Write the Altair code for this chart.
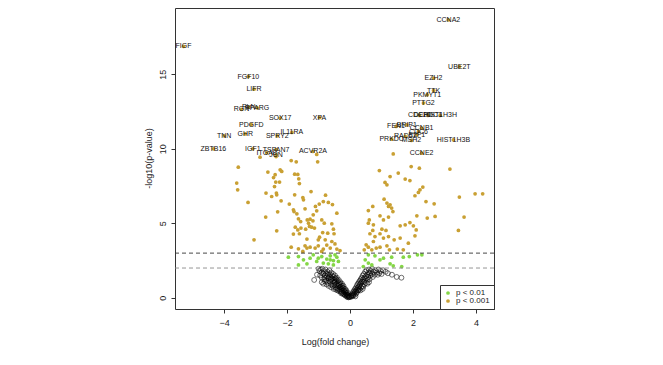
import altair as alt
import pandas as pd

# ---- data ----
gold_x = [-2.86, -2.35, -1.87, -1.71, -1.06, -1.03, -3.55, -3.60, -3.57, -3.24, -3.05, -2.68, -2.61, -2.67,
          -2.49, -2.43, -2.38, -2.36, -2.24, -2.22, -2.17, -2.40, -2.34, -2.33, -2.19, -2.30, -2.33, -1.76,
          -1.66, -1.63, -1.61, -1.76, -1.93, -1.80, -1.78, -1.50, -1.48, -1.43, -1.24, -1.10, -1.06, -0.98,
          -0.85, -0.78, -0.69, -0.56, -0.42, -1.69, -1.64, -1.57, -1.74, -1.66, -1.61, -1.80, -1.36, -1.27,
          -1.18, -1.32, -1.29, -1.22, -1.13, -1.56, -1.41, -1.17, -0.90, -0.82, -0.87, -0.58, -0.53, -0.97,
          -0.71, -0.51, -1.37, -1.01, -0.79, -0.58, -0.48, -1.87, -1.64, -1.43, -1.37, -1.27, -1.11, -1.01,
          -0.85, -0.74, -0.63, -0.42, -0.32, -1.50, -0.90,
          1.37, 1.94, 2.20, 3.17, 0.93, 1.53, 1.27, 1.75, 1.90, 1.11, 1.17, 2.31, 2.22, 2.17, 2.06, 3.97,
          4.21, 3.47, 2.41, 2.67, 1.08, 1.17, 1.22, 1.27, 1.32, 1.36, 0.72, 0.58, 0.95, 1.06, 1.22, 2.12,
          2.45, 2.70, 3.62, 0.61, 0.58, 0.74, 1.90, 1.75, 1.59, 2.01, 3.44, 1.01, 1.14, 0.72, 2.10, 0.63,
          0.79, 0.95, 1.06, 1.22, 1.40, 1.59, 2.06, 1.85, 0.74, 0.51, 0.58, 0.83, 0.95, 1.17, 1.25, 1.50,
          1.69, 0.45, 0.69]
gold_y = [9.44, 9.48, 9.21, 9.13, 9.62, 9.13, 8.77, 7.70, 7.25, 6.40, 3.89, 5.42, 8.44, 7.03,
          6.80, 8.07, 8.26, 7.77, 7.77, 8.59, 8.48, 7.47, 7.03, 6.91, 6.51, 5.77, 4.50, 8.30,
          8.28, 7.99, 7.67, 6.91, 6.29, 5.91, 5.79, 6.73, 6.58, 5.97, 7.13, 6.13, 5.84, 6.29,
          6.46, 6.89, 6.40, 6.26, 5.68, 5.64, 5.30, 5.12, 4.74, 4.56, 4.30, 4.28, 5.23, 5.28,
          5.17, 5.01, 4.79, 4.74, 4.68, 4.68, 4.61, 5.57, 5.23, 5.01, 4.38, 4.97, 4.61, 4.07,
          4.34, 4.30, 3.94, 3.89, 3.89, 3.78, 3.62, 3.40, 3.29, 3.49, 3.34, 3.40, 3.34, 3.49,
          3.27, 3.54, 3.34, 3.27, 3.17, 3.11, 3.11,
          9.66, 8.81, 8.70, 8.64, 8.54, 8.37, 8.14, 7.97, 7.87, 7.74, 7.58, 7.43, 7.25, 7.07, 6.85, 6.98,
          6.98, 6.76, 6.46, 6.31, 6.62, 6.36, 6.13, 6.24, 6.02, 5.79, 6.13, 5.86, 5.50, 5.23, 5.42, 5.50,
          5.35, 5.46, 5.42, 5.23, 5.01, 4.90, 5.05, 4.90, 4.83, 4.83, 4.52, 4.61, 4.52, 4.52, 4.56, 4.30,
          4.11, 4.30, 4.01, 4.11, 3.89, 4.01, 4.16, 3.67, 3.78, 3.56, 3.40, 3.34, 3.40, 3.49, 3.22, 3.27,
          3.22, 3.22, 3.22]

green_x = [-1.96, -1.64, -1.48, -1.27, -1.17, -1.01, -0.90, -0.74, -0.63, -0.53, -0.42, -0.37, -1.64,
           -1.37, -1.06, -0.85, -0.69, -0.53, -0.48, -0.63,
           0.58, 0.79, 0.48, 0.58, 0.95, 1.06, 1.32, 1.69, 1.88, 2.14, 2.28, 1.27, 1.37, 1.64, 0.69, 0.42]
green_y = [2.73, 2.77, 2.55, 2.66, 2.89, 2.66, 2.77, 2.60, 2.82, 2.50, 2.73, 2.44, 2.21,
           2.28, 2.44, 2.33, 2.28, 2.21, 2.89, 2.55,
           2.89, 2.82, 2.55, 2.33, 2.55, 2.66, 2.73, 2.73, 2.77, 2.89, 2.89, 2.28, 2.15, 2.10, 2.21, 2.10]

ns_x = [-1.00, -0.97, -0.93, -0.90, -0.88, -0.85, -0.83, -0.80, -0.78, -0.76, -0.74, -0.72, -0.70, -0.68,
        -0.66, -0.65, -0.63, -0.62, -0.60, -0.58, -0.57, -0.55, -0.54, -0.52, -0.50, -0.49, -0.48, -0.46,
        -0.45, -0.44, -0.42, -0.40, -0.39, -0.38, -0.36, -0.35, -0.34, -0.32, -0.31, -0.30, -0.29, -0.28,
        -0.26, -0.25, -0.24, -0.23, -0.21, -0.20, -0.19, -0.18, -0.16, -0.15, -0.14, -0.12, -0.11, -0.10,
        -0.08, -0.07, -0.06, -0.04, -0.03, -0.02, -1.14, -1.05, -0.95, -0.90, -0.82, -0.75,
        -0.90, -0.85, -0.80, -0.75, -0.70, -0.68, -0.65, -0.60, -0.60, -0.55, -0.52, -0.50, -0.47, -0.45,
        -0.42, -0.40, -0.38, -0.35, -0.33, -0.30, -0.28, -0.27, -0.25, -0.22, -0.20, -0.17, -0.15, -0.13,
        -0.10, -0.09, -0.05, -0.60, -0.70, -0.80, -0.50, -0.45,
        0.02, 0.03, 0.05, 0.06, 0.08, 0.09, 0.10, 0.12, 0.13, 0.15, 0.16, 0.18, 0.19, 0.21, 0.22, 0.24,
        0.25, 0.27, 0.28, 0.30, 0.31, 0.33, 0.34, 0.36, 0.37, 0.39, 0.40, 0.42, 0.44, 0.46, 0.48, 0.50,
        0.52, 0.55, 0.58, 0.60, 0.63, 0.66, 0.70, 0.75, 0.80, 0.90, 0.97, 1.05, 1.13, 1.20, 1.33, 1.48,
        1.63, 0.35, 0.45, 0.55, 0.25,
        0.10, 0.15, 0.20, 0.22, 0.27, 0.30, 0.33, 0.38, 0.42, 0.45, 0.50, 0.52, 0.58, 0.62, 0.65, 0.70,
        0.72, 0.78, 0.85, 0.88, 0.93, 1.00, 0.55, 0.60, 0.40, 0.17]
ns_y = [1.95, 1.80, 1.90, 1.70, 1.95, 1.60, 1.80, 1.50, 1.90, 1.65, 1.45, 1.75, 1.55, 1.35,
        1.85, 1.60, 1.40, 1.20, 1.70, 1.50, 1.30, 1.10, 1.60, 1.40, 1.20, 1.00, 1.50, 1.30,
        1.10, 0.90, 1.35, 1.15, 0.95, 0.80, 1.20, 1.00, 0.85, 0.70, 1.05, 0.90, 0.75, 0.60,
        0.95, 0.80, 0.65, 0.50, 0.80, 0.65, 0.50, 0.40, 0.60, 0.45, 0.35, 0.50, 0.30, 0.20,
        0.35, 0.20, 0.12, 0.15, 0.08, 0.05, 1.20, 1.55, 1.50, 1.35, 1.25, 1.15,
        1.05, 0.95, 1.10, 0.90, 1.00, 0.80, 1.10, 0.90, 0.70, 0.80, 0.60, 0.85, 0.70, 0.55,
        0.65, 0.50, 0.60, 0.45, 0.55, 0.40, 0.30, 0.45, 0.35, 0.25, 0.30, 0.20, 0.15, 0.22,
        0.10, 0.05, 0.03, 1.25, 1.30, 1.35, 1.05, 1.25,
        0.06, 0.12, 0.20, 0.10, 0.30, 0.18, 0.40, 0.28, 0.50, 0.38, 0.60, 0.45, 0.70, 0.55, 0.85, 0.65,
        0.95, 0.75, 1.05, 0.85, 1.15, 0.95, 1.25, 1.05, 1.35, 1.10, 1.50, 1.25, 1.60, 1.35, 1.75, 1.45,
        1.85, 1.55, 1.70, 1.90, 1.65, 1.80, 1.95, 1.75, 1.85, 1.90, 1.80, 1.85, 1.75, 1.65, 1.55, 1.40,
        1.35, 0.70, 0.90, 1.20, 0.50,
        0.15, 0.20, 0.30, 0.40, 0.50, 0.60, 0.50, 0.80, 0.75, 1.10, 1.00, 1.30, 1.40, 1.25, 1.50, 1.60,
        1.40, 1.55, 1.70, 1.55, 1.65, 1.60, 0.95, 1.05, 0.60, 0.10]

gene_names = ["FIGF", "FGF10", "LIFR", "RGN", "PLN", "PPARG", "SOX17", "XPA", "PDGFD", "TNN", "GHR",
              "SPRY2", "IL11RA", "ZBTB16", "IGF1", "TSPAN7", "ITGA8", "JUN", "ACVR2A",
              "CCNA2", "UBE2T", "EZH2", "TTK", "PKMYT1", "PTTG2", "CDC20", "DEPDC1", "HIST1H3H",
              "FEN1", "BRIP1", "CCNB1", "CDC6", "E2F1", "PRKDC", "RAD51", "MSH2", "HIST1H3B", "CCNE2"]
gene_x = [-5.29, -3.23, -3.05, -3.45, -3.22, -2.95, -2.22, -0.97, -3.14, -4.00, -3.33,
          -2.31, -1.85, -4.34, -3.09, -2.35, -2.65, -2.35, -1.18,
          3.12, 3.47, 2.65, 2.65, 2.45, 2.33, 2.20, 2.47, 2.86,
          1.46, 1.80, 2.27, 2.17, 2.12, 1.32, 1.75, 1.95, 3.28, 2.27]
gene_y = [16.87, 14.85, 14.00, 12.65, 12.80, 12.75, 12.06, 12.10, 11.63, 10.87, 11.00,
          10.87, 11.10, 10.00, 10.00, 9.95, 9.73, 9.60, 9.82,
          18.66, 15.52, 14.74, 13.91, 13.62, 13.07, 12.24, 12.24, 12.24,
          11.50, 11.60, 11.39, 11.16, 10.94, 10.65, 10.83, 10.56, 10.60, 9.71]

thresholds = [3, 2]
threshold_colors = ["#333333", "#888888"]
legend_labels = ["p < 0.01", "p < 0.001"]
GREEN = "#84D646"
GOLD = "#C9A033"

# ---- tables ----
ns_df = pd.DataFrame({"fc": ns_x, "p": ns_y})
sig_df = pd.concat([
    pd.DataFrame({"fc": green_x, "p": green_y, "grp": legend_labels[0]}),
    pd.DataFrame({"fc": gold_x, "p": gold_y, "grp": legend_labels[1]}),
    pd.DataFrame({"fc": gene_x, "p": gene_y, "grp": legend_labels[1]}),
], ignore_index=True)
gene_df = pd.DataFrame({"fc": gene_x, "p": gene_y, "gene": gene_names})
thr_df = pd.DataFrame({"p": thresholds, "col": threshold_colors})

FONT = "Liberation Sans"

xs = alt.X("fc:Q", scale=alt.Scale(domain=[-5.56, 4.57], nice=False, zero=False),
           axis=alt.Axis(values=[-4, -2, 0, 2, 4], title="Log(fold change)", grid=False, domain=False,
                         tickSize=4, tickColor="#333", labelPadding=5, labelFontSize=9, labelColor="#222",
                         labelFont=FONT, titleFont=FONT, titleFontSize=9, titleFontWeight="normal",
                         titleColor="#222", titleX=160, titleY=32, titleBaseline="middle",
                         titleAnchor="middle", format="d"))
ys = alt.Y("p:Q", scale=alt.Scale(domain=[-0.75, 19.45], nice=False, zero=False),
           axis=alt.Axis(values=[0, 5, 10, 15], title="-log10(p-value)", grid=False, domain=False,
                         tickSize=4, tickColor="#333", labelPadding=4, labelFontSize=9, labelColor="#222",
                         labelAngle=270, labelAlign="center", labelBaseline="bottom",
                         labelFont=FONT, titleFont=FONT, titleFontSize=9, titleFontWeight="normal",
                         titleColor="#222", titleX=-27, titleY=150, titleAngle=270,
                         titleBaseline="middle", titleAlign="center"))

ns_layer = alt.Chart(ns_df).mark_point(shape="circle", filled=False, color="black",
                                       size=24, strokeWidth=0.8).encode(x=xs, y=ys)

sig_layer = alt.Chart(sig_df).mark_circle(size=14, opacity=1).encode(
    x=xs, y=ys,
    color=alt.Color("grp:N", scale=alt.Scale(domain=legend_labels, range=[GREEN, GOLD]),
                    legend=alt.Legend(title=None, orient="bottom-right", offset=0, padding=4,
                                      strokeColor="#333", labelFont=FONT, labelFontSize=8,
                                      labelColor="#222", symbolSize=14, symbolType="circle",
                                      rowPadding=0, labelOffset=4)))

rules = alt.Chart(thr_df).mark_rule(strokeDash=[4, 3], strokeWidth=0.9).encode(
    y=alt.Y("p:Q"), color=alt.Color("col:N", scale=None))

labels = alt.Chart(gene_df).mark_text(font=FONT, fontSize=7, color="#111").encode(
    x=xs, y=ys, text="gene:N")

chart = alt.layer(ns_layer, sig_layer, rules, labels).properties(
    width=319, height=301,
    autosize=alt.AutoSizeParams(type="none"),
    padding={"left": 167, "top": 0, "right": 160, "bottom": 48},
).configure_view(stroke="#333", strokeWidth=1).configure_axis(labelOverlap=False)

chart.save("out.html", embed_options={"renderer": "svg", "actions": False})
